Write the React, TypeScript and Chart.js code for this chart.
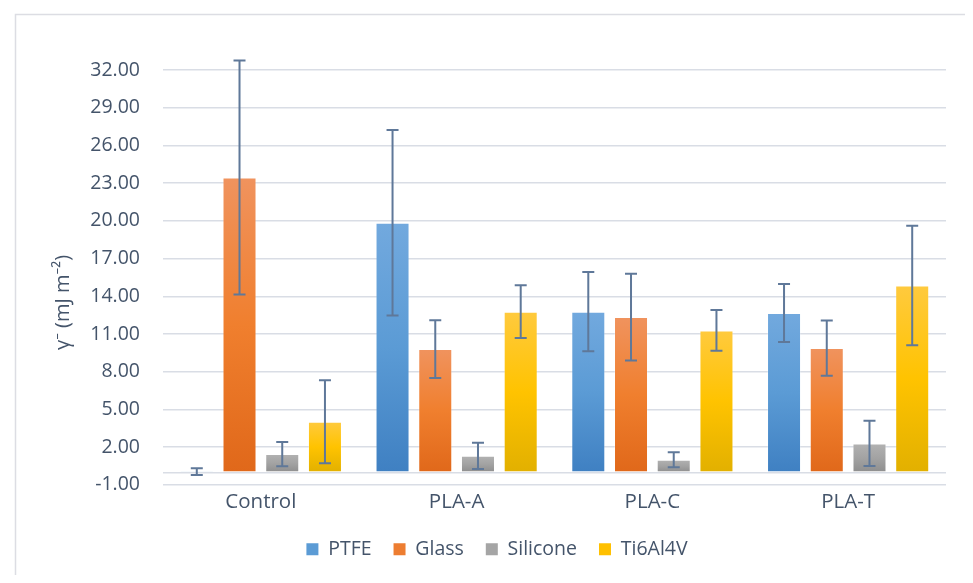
import React, { useEffect, useRef } from "react";
import { Chart, registerables } from "chart.js";

Chart.register(...registerables);

const categories = ["Control", "PLA-A", "PLA-C", "PLA-T"];
const seriesNames = ["PTFE", "Glass", "Silicone", "Ti6Al4V"];

const ptfe = [0.05, 19.85, 12.78, 12.67];
const ptfeErr = [0.27, 7.37, 3.15, 2.3];
const glass = [23.45, 9.8, 12.35, 9.88];
const glassErr = [9.3, 2.3, 3.45, 2.2];
const silicone = [1.45, 1.31, 1.0, 2.3];
const siliconeErr = [0.96, 1.05, 0.6, 1.8];
const ti6al4v = [4.03, 12.78, 11.29, 14.86];
const ti6al4vErr = [3.3, 2.1, 1.63, 4.75];

const yMin = -1;
const yMax = 32;
const yStep = 3;

const TEXT = "#44546a";
const GRID = "#d9dde5";
const ERR = "#5f7899";
const FONT = "'Open Sans', 'Noto Sans', sans-serif";

const palette = [
  { top: "#72a9de", mid: "#5b9bd5", bottom: "#3f80c2", legend: "#5b9bd5" },
  { top: "#f0935e", mid: "#f07f2e", bottom: "#e0681a", legend: "#ed7d31" },
  { top: "#b2b2b2", mid: "#a3a3a3", bottom: "#8e8e8e", legend: "#a5a5a5" },
  { top: "#ffca3e", mid: "#ffc300", bottom: "#e2b000", legend: "#ffc000" },
];

const makeGrad = (p: any) => (ctx: any) => {
  const chart = ctx.chart;
  const y = chart.scales && chart.scales.y;
  if (!y || ctx.type !== "data") return p.mid;
  const v = ctx.parsed ? ctx.parsed.y : ctx.raw;
  const yTop = y.getPixelForValue(Math.max(v, 0));
  const yBase = y.getPixelForValue(Math.min(v, 0));
  if (!isFinite(yTop) || !isFinite(yBase) || Math.abs(yTop - yBase) < 0.5) return p.mid;
  const g = chart.ctx.createLinearGradient(0, yTop, 0, yBase);
  g.addColorStop(0, p.top);
  g.addColorStop(0.5, p.mid);
  g.addColorStop(1, p.bottom);
  return g;
};

const errorBarPlugin = {
  id: "errorBars",
  afterDatasetsDraw(chart: any) {
    const { ctx } = chart;
    const y = chart.scales.y;
    ctx.save();
    ctx.strokeStyle = ERR;
    ctx.lineWidth = 2;
    chart.data.datasets.forEach((ds: any, di: number) => {
      const meta = chart.getDatasetMeta(di);
      meta.data.forEach((bar: any, i: number) => {
        const v = ds.data[i];
        const e = ds.errors[i];
        const x = bar.x;
        const yt = y.getPixelForValue(v + e);
        const yb = y.getPixelForValue(v - e);
        ctx.beginPath();
        ctx.moveTo(x, yt);
        ctx.lineTo(x, yb);
        ctx.moveTo(x - 6, yt);
        ctx.lineTo(x + 6, yt);
        ctx.moveTo(x - 6, yb);
        ctx.lineTo(x + 6, yb);
        ctx.stroke();
      });
    });
    ctx.restore();
  },
};

const framePlugin = {
  id: "frame",
  beforeDraw(chart: any) {
    const { ctx, width, height } = chart;
    ctx.save();
    ctx.strokeStyle = "#dcdde3";
    ctx.lineWidth = 1.5;
    ctx.beginPath();
    ctx.moveTo(7.5, height + 2);
    ctx.lineTo(7.5, 6.5);
    ctx.lineTo(width + 2, 6.5);
    ctx.stroke();
    ctx.restore();
  },
  afterDraw(chart: any) {
    const { ctx, chartArea } = chart;
    ctx.save();
    ctx.fillStyle = TEXT;
    ctx.font = `20px ${FONT}`;
    ctx.textAlign = "center";
    ctx.textBaseline = "middle";
    const cy = (chartArea.top + chartArea.bottom) / 2 + 25;
    ctx.translate(55, cy);
    ctx.rotate(-Math.PI / 2);
    ctx.fillText("γ⁻ (mJ m⁻²)", 0, 0);
    ctx.restore();
  },
};

export default function App() {
  const ref = useRef<HTMLCanvasElement | null>(null);
  useEffect(() => {
    if (!ref.current) return;
    const values = [ptfe, glass, silicone, ti6al4v];
    const errors = [ptfeErr, glassErr, siliconeErr, ti6al4vErr];
    const chart = new Chart(ref.current, {
      type: "bar",
      data: {
        labels: categories,
        datasets: seriesNames.map((name, i) => ({
          label: name,
          data: values[i],
          errors: errors[i],
          backgroundColor: makeGrad(palette[i]),
          borderColor: "rgba(255,255,255,0.25)",
          borderWidth: 1,
          categoryPercentage: 0.873,
          barPercentage: 0.796,
        })) as any,
      },
      options: {
        animation: false,
        responsive: true,
        maintainAspectRatio: false,
        layout: { padding: { left: 40, right: 19, top: 62, bottom: 6 } },
        font: { family: FONT },
        scales: {
          x: {
            grid: { display: false, drawTicks: false },
            border: { display: false },
            ticks: { color: TEXT, font: { family: FONT, size: 20.5 }, padding: 5 },
            afterFit: (s: any) => {
              s.height = 32.6;
            },
          },
          y: {
            min: yMin,
            max: yMax,
            grid: { color: GRID, lineWidth: 1.5, drawTicks: false },
            border: { display: false },
            ticks: {
              stepSize: yStep,
              color: TEXT,
              padding: 23,
              font: { family: FONT, size: 19.5 },
              callback: (v: any) => (Number(v) === 0 ? "" : Number(v).toFixed(2)),
            },
            afterBuildTicks: (s: any) => {
              if (!s.ticks.some((t: any) => t.value === 0)) {
                s.ticks.push({ value: 0 });
                s.ticks.sort((a: any, b: any) => a.value - b.value);
              }
            },
            afterFit: (s: any) => {
              s.width = 115;
            },
          },
        },
        plugins: {
          legend: {
            position: "bottom",
            labels: {
              color: TEXT,
              font: { family: FONT, size: 19.5 },
              boxWidth: 12,
              boxHeight: 12,
              padding: 22,
              generateLabels: () =>
                seriesNames.map((n, i) => ({
                  text: n,
                  fillStyle: palette[i].legend,
                  strokeStyle: palette[i].legend,
                  lineWidth: 0,
                  fontColor: TEXT,
                  datasetIndex: i,
                  hidden: false,
                })) as any,
            },
          },
          tooltip: { enabled: false },
        },
      } as any,
      plugins: [framePlugin, errorBarPlugin],
    });
    return () => chart.destroy();
  }, []);
  return (
    <div style={{ width: 957, height: 567, position: "relative" }}>
      <canvas ref={ref} />
    </div>
  );
}
